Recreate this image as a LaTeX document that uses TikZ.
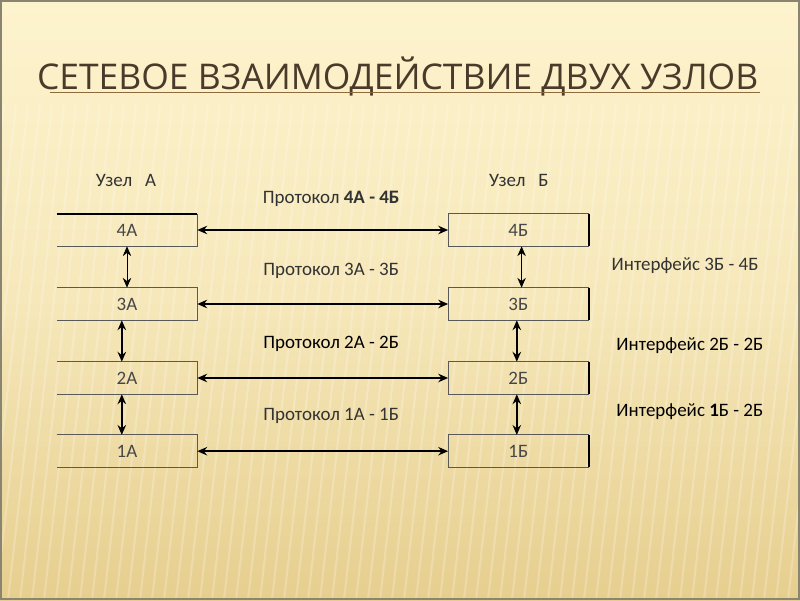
\documentclass[tikz,border=0pt]{standalone}
\usepackage{fontspec}
\setmainfont{Carlito}
\newfontfamily\titlefont{Open Sans}
\usepackage{xcolor}
\usetikzlibrary{positioning, arrows.meta, calc}

\definecolor{bgtop}{HTML}{FDF3CD}
\definecolor{bgbot}{HTML}{E6CE8E}
\definecolor{titlebrown}{HTML}{4A3A2A}
\definecolor{rulebrown}{HTML}{8C6B3C}
\definecolor{framegray}{HTML}{8A8570}

\begin{document}
\begin{tikzpicture}[
  font=\fontsize{13.5}{15}\selectfont,
  layer/.style={rectangle, minimum width=3.5cm, minimum height=0.8cm,
             inner sep=0pt, text=black!72},
  edge/.style={draw=black!65, line width=0.6pt},
  heavy/.style={draw=black, line width=1.3pt},
  proto/.style={{Stealth[length=7pt,width=6pt]}-{Stealth[length=7pt,width=6pt]},
             line width=1.1pt},
  iface/.style={{Stealth[length=7pt,width=6pt]}-{Stealth[length=7pt,width=6pt]},
             line width=1.6pt},
  lbl/.style={text=black!80, inner sep=1pt},
]

% ---- Background ----
\useasboundingbox (0,0) rectangle (20,15);
\fill[top color=bgtop, bottom color=bgbot, middle color=bgtop!70!bgbot] (0,0) rectangle (20,15);
\begin{scope}
  \clip (0,0) rectangle (20,12.4);
  \foreach \x in {-4,-3.7,...,22}
    \draw[white, opacity=0.22, line width=1.5pt] (\x,0) -- (\x+1.4,12.4);
\end{scope}
\draw[framegray, line width=1.5pt] (0.03,0.03) rectangle (19.97,14.97);

% ---- Title ----
\node[anchor=base west, inner sep=0pt, text=titlebrown,
      font=\titlefont\fontsize{25.2}{28}\selectfont] (title) at (0.92,12.75)
  {СЕТЕВОЕ ВЗАИМОДЕЙСТВИЕ ДВУХ УЗЛОВ};
\draw[rulebrown, line width=0.8pt] (1.25,12.68) -- (19.0,12.68);

% ---- Node A ----
\node[lbl] (nodeA) at (3.15,10.5) {Узел\ \ \ А};
\node[layer] (a4) at (3.175,9.25) {4А};
\node[layer] (a3) at (3.175,7.4)  {3А};
\node[layer] (a2) at (3.175,5.55) {2А};
\node[layer] (a1) at (3.175,3.72) {1А};
\draw[heavy] (a4.north west) -- (a4.north east);
\draw[edge] (a4.north east) -- (a4.south east) -- (a4.south west);
\draw[edge] (a3.north west) -- (a3.north east) -- (a3.south east) -- (a3.south west);
\draw[edge] (a2.north west) -- (a2.north east) -- (a2.south east) -- (a2.south west);
\draw[edge] (a1.north west) -- (a1.north east) -- (a1.south east) -- (a1.south west);

% ---- Node B ----
\node[lbl] (nodeB) at (12.97,10.5) {Узел\ \ \ Б};
\node[layer] (b4) at (12.96,9.25) {4Б};
\node[layer] (b3) at (12.96,7.4)  {3Б};
\node[layer] (b2) at (12.96,5.55) {2Б};
\node[layer] (b1) at (12.96,3.72) {1Б};
\draw[edge] (b4.north east) -- (b4.north west) -- (b4.south west) -- (b4.south east);
\draw[edge] (b3.north east) -- (b3.north west) -- (b3.south west) -- (b3.south east);
\draw[edge] (b2.north east) -- (b2.north west) -- (b2.south west) -- (b2.south east);
\draw[edge] (b1.north east) -- (b1.north west) -- (b1.south west) -- (b1.south east);
\draw[heavy] (b4.north east) -- (b4.south east);
\draw[heavy] (b3.north east) -- (b3.south east);
\draw[heavy] (b2.north east) -- (b2.south east);
\draw[heavy] (b1.north east) -- (b1.south east);

% ---- Protocols ----
\draw[proto, line width=1.7pt] (a4.east) -- (b4.west);
\draw[proto] (a3.east) -- (b3.west);
\draw[proto] (a2.east) -- (b2.west);
\draw[proto] (a1.east) -- (b1.west);
\node[lbl] (p4) at (8.28,10.02) {Протокол \textbf{4А - 4Б}};
\node[lbl] (p3) at (8.28,8.22)  {Протокол 3А - 3Б};
\node[lbl, text=black] (p2) at (8.28,6.4) {Протокол 2А - 2Б};
\node[lbl] (p1) at (8.28,4.6)   {Протокол 1А - 1Б};

% ---- Interfaces ----
\draw[proto, line width=0.6pt] (a4.south) -- (a3.north);
\draw[iface] ([xshift=-1.3mm]a3.south) -- ([xshift=-1.3mm]a2.north);
\draw[iface] ([xshift=-1.3mm]a2.south) -- ([xshift=-1.3mm]a1.north);
\draw[proto, line width=0.6pt] ([xshift=0.8mm]b4.south) -- ([xshift=0.8mm]b3.north);
\draw[iface] ([xshift=-0.4mm]b3.south) -- ([xshift=-0.4mm]b2.north);
\draw[iface] ([xshift=-0.4mm]b2.south) -- ([xshift=-0.4mm]b1.north);
\node[lbl, anchor=west] (i43) at (15.25,8.37) {Интерфейс 3Б - 4Б};
\node[lbl, anchor=west, text=black] (i22) at (15.37,6.37) {Интерфейс 2Б - 2Б};
\node[lbl, anchor=west, text=black] (i12) at (15.37,4.71) {Интерфейс \textbf{1}Б - 2Б};

\end{tikzpicture}
\end{document}
